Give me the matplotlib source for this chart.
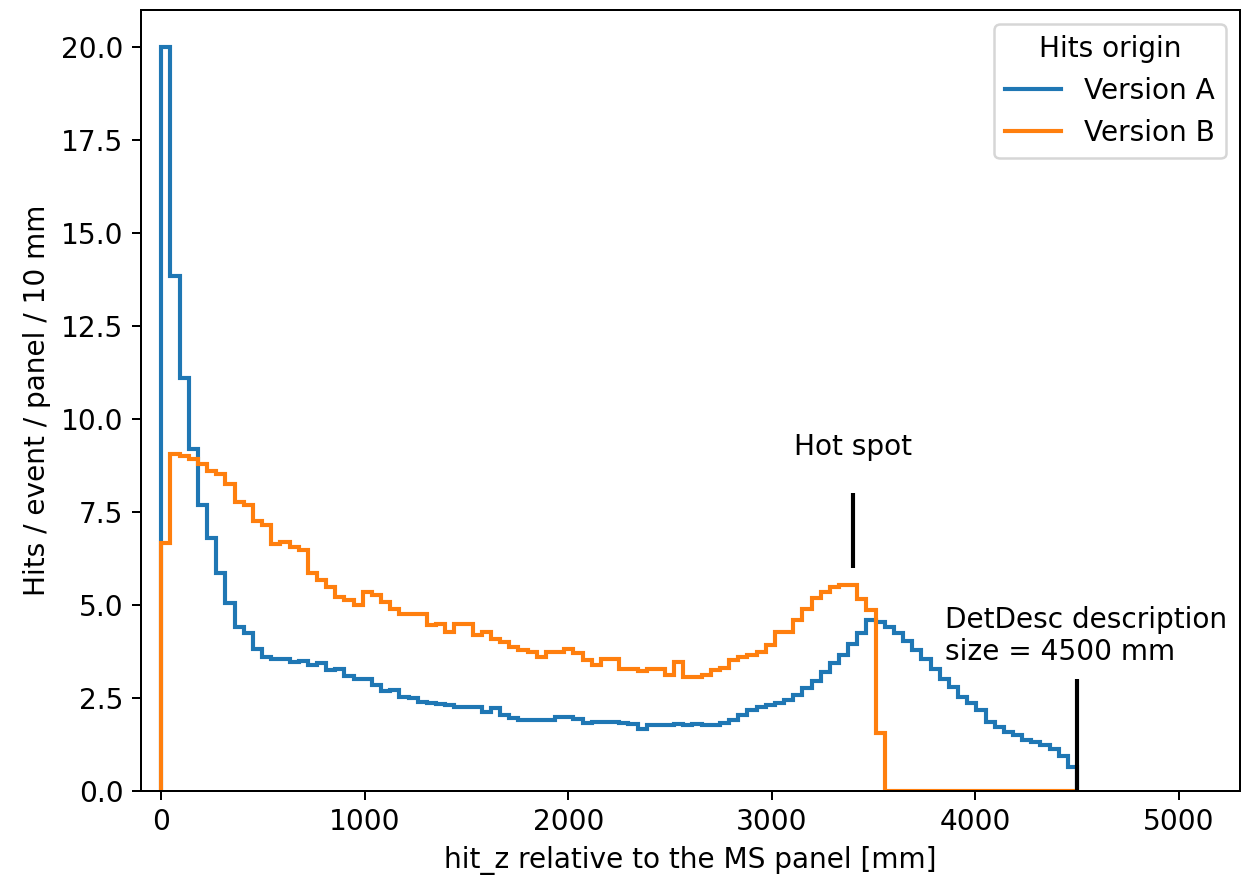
import matplotlib.pyplot as plt
import numpy as np

# 100 bins of 45 mm between 0 and 4500 mm
edges = np.linspace(0, 4500, 101)

version_a = [
    20.0, 13.85, 11.1, 9.2, 7.7, 6.8, 5.85, 5.05, 4.4, 4.25,
    3.83, 3.61, 3.55, 3.55, 3.47, 3.5, 3.4, 3.45, 3.25, 3.28,
    3.1, 3.02, 3.0, 2.85, 2.68, 2.71, 2.53, 2.5, 2.38, 2.37,
    2.33, 2.3, 2.26, 2.26, 2.26, 2.13, 2.24, 2.04, 1.95, 1.91,
    1.91, 1.91, 1.91, 1.99, 1.99, 1.94, 1.82, 1.86, 1.86, 1.86,
    1.82, 1.8, 1.68, 1.77, 1.77, 1.77, 1.8, 1.77, 1.8, 1.77,
    1.77, 1.83, 1.91, 2.04, 2.17, 2.26, 2.3, 2.37, 2.44, 2.58,
    2.76, 2.95, 3.2, 3.45, 3.65, 3.95, 4.25, 4.6, 4.55, 4.4,
    4.25, 4.02, 3.79, 3.56, 3.29, 3.02, 2.8, 2.53, 2.37, 2.17,
    1.86, 1.73, 1.59, 1.5, 1.37, 1.33, 1.23, 1.12, 0.95, 0.65,
]

version_b = [
    6.66, 9.07, 9.02, 8.93, 8.8, 8.6, 8.53, 8.26, 7.77, 7.68,
    7.27, 7.14, 6.65, 6.7, 6.56, 6.47, 5.86, 5.66, 5.48, 5.22,
    5.13, 4.99, 5.35, 5.26, 5.08, 4.9, 4.77, 4.77, 4.77, 4.46,
    4.5, 4.28, 4.5, 4.5, 4.19, 4.28, 4.1, 4.01, 3.86, 3.8,
    3.74, 3.61, 3.74, 3.74, 3.83, 3.7, 3.52, 3.4, 3.56, 3.56,
    3.29, 3.29, 3.22, 3.29, 3.29, 3.11, 3.47, 3.07, 3.07, 3.12,
    3.25, 3.3, 3.52, 3.61, 3.65, 3.74, 3.92, 4.28, 4.28, 4.6,
    4.9, 5.2, 5.35, 5.48, 5.53, 5.53, 5.17, 4.86, 1.55, 0.0,
    0, 0, 0, 0, 0, 0, 0, 0, 0, 0,
    0, 0, 0, 0, 0, 0, 0, 0, 0, 0,
]

hot_spot = 3400
detdesc_size = 4500

plt.rcParams["font.size"] = 11.2

fig = plt.figure(figsize=(1241 / 180, 883 / 180), dpi=180)
ax = fig.add_axes([0.1136, 0.1042, 0.8855, 0.8845])

ax.stairs(version_a, edges, baseline=0, color="#1f77b4", lw=1.65, label="Version A")
ax.stairs(version_b, edges, baseline=0, color="#ff7f0e", lw=1.65, label="Version B")

ax.vlines(hot_spot, 6, 8, color="black", lw=1.65)
ax.text(hot_spot, 9.25, "Hot spot", ha="center", va="center")
ax.vlines(detdesc_size, 0, 3, color="black", lw=1.65)
ax.text(3850, 3.35, "DetDesc description\nsize = 4500 mm", ha="left", va="bottom")

ax.set_xlim(-100, 5300)
ax.set_ylim(0, 21)
ax.set_xlabel("hit_z relative to the MS panel [mm]")
ax.set_ylabel("Hits / event / panel / 10 mm")
ax.legend(title="Hits origin", loc="upper right")

fig.savefig("out.png", dpi=180)
